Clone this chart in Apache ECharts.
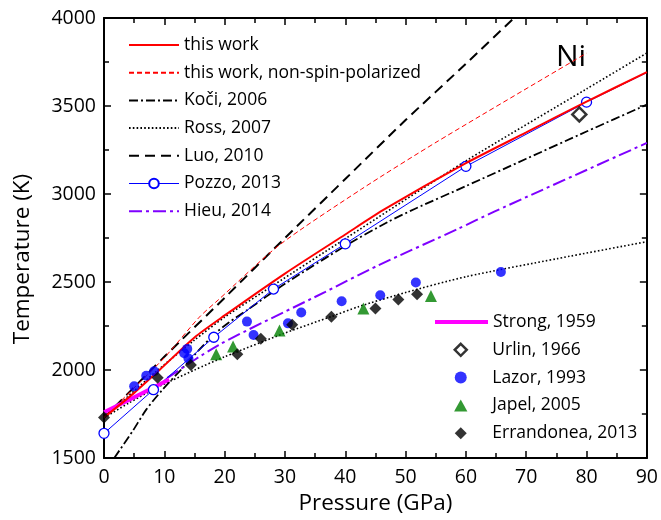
<!DOCTYPE html>
<html><head><meta charset="utf-8">
<script src="https://cdn.jsdelivr.net/npm/echarts@6/dist/echarts.min.js"></script>
<style>html,body{margin:0;padding:0;background:#fff}#c{width:661px;height:520px}</style>
</head><body><div id="c"></div>
<script>
// ---- data (Pressure GPa, Temperature K) ----
const thisWork = [[0,1730],[5,1870],[9.2,2000],[15,2185],[20,2310],[30,2548],[40,2770],[46.6,2915],[60,3175],[70,3350],[80,3525],[90,3692]];
const thisWorkNSP = [[0,1730],[3.7,1855],[10,2070],[15.8,2300],[19,2400],[29,2708],[42.7,3028],[55.4,3301],[80,3800]];
const koci = [[1.7,1500],[4.75,1653],[7,1775],[9.7,1888],[13,2010],[17.9,2191],[20.7,2270],[23.7,2340],[30,2490],[40,2705],[47,2840],[51.5,2915],[60,3045],[70,3200],[80,3355],[90,3508]];
const rossUpper = [[0,1728],[8.6,1990],[15,2170],[20,2300],[28.1,2482],[40,2746],[60,3188],[80,3597],[90,3801]];
const rossLower = [[0,1728],[4,1810],[8.6,1897],[15,2000],[20,2075],[30,2210],[37.8,2305],[42.2,2360],[50,2440],[60,2530],[75.2,2633],[90,2729]];
const luo = [[0,1728],[10,2075],[20,2410],[30,2750],[40,3085],[50,3420],[60,3740],[68,4000],[70,4060]];
const pozzo = [[0,1640],[8.2,1888],[18.2,2186],[28.1,2460],[40,2717],[60,3157],[80,3522]];
const pozzoEnd = [90,3690];
const hieu = [[10.5,1955],[19,2142],[36.7,2444],[45.5,2595],[58.7,2802],[64.7,2900],[90,3290]];
const strong = [[0,1760],[4.2,1831],[10.8,1946]];
const urlin = [[78.8,3452]];
const lazor = [[5.0,1907],[7.0,1967],[8.3,1993],[13.3,2095],[13.8,2120],[14.0,2065],[23.7,2275],[24.8,2199],[30.5,2265],[32.7,2327],[39.4,2391],[45.8,2425],[51.7,2497],[65.8,2557]];
const japel = [[18.6,2090],[21.4,2133],[29.1,2224],[43.0,2350],[54.2,2421]];
const errandonea = [[0,1730],[8.9,1956],[14.4,2028],[22.1,2090],[26.0,2178],[31.2,2257],[37.7,2303],[45.0,2350],[48.8,2401],[51.9,2431]];

const legendLines = ['this work','this work, non-spin-polarized','Koči, 2006','Ross, 2007','Luo, 2010','Pozzo, 2013','Hieu, 2014'];
const legendLine2 = ['Strong, 1959'];
const legendPoints = ['Urlin, 1966','Lazor, 1993','Japel, 2005','Errandonea, 2013'];

const FONT = 'Open Sans';
const chart = echarts.init(document.getElementById('c'), null, {renderer:'canvas'});

function lineSeries(name, data, color, width, type, extra) {
  return Object.assign({
    name: name, type: 'line', data: data, symbol: 'none', smooth: 0.25,
    lineStyle: {color: color, width: width, type: type},
    itemStyle: {color: color},
    animation: false, z: 2
  }, extra || {});
}

const axisCommon = {
  axisLine: {show: true, onZero: false, lineStyle: {color: '#000', width: 2}},
  axisTick: {show: true, inside: true, length: 7, lineStyle: {color: '#000', width: 1.5}},
  minorTick: {show: true, splitNumber: 2, length: 5, lineStyle: {color: '#000', width: 1.5}},
  splitLine: {show: false}
};

const LEGEND_LINE_W = {'this work': 2, 'Pozzo, 2013': 1, 'Strong, 1959': 4};
const legendLineItem = n => {
  const it = {name: n};
  if (n !== 'Pozzo, 2013') it.itemStyle = {opacity: 0};
  if (LEGEND_LINE_W[n]) it.lineStyle = {width: LEGEND_LINE_W[n]};
  return it;
};
const ICONS = {
  'Urlin, 1966': 'path://M5,0L10,5L5,10L0,5Z',
  'Lazor, 1993': 'circle',
  'Japel, 2005': 'path://M5,0L10,9L0,9Z',
  'Errandonea, 2013': 'path://M5,0L10,5L5,10L0,5Z'
};
const ICON_STYLE = {
  'Urlin, 1966': {color: '#fff', borderColor: '#000', borderWidth: 2.5}
};
const legendText = {fontFamily: FONT, fontSize: 17.5, color: '#000', lineHeight: 18};

const option = {
  backgroundColor: '#fff',
  animation: false,
  textStyle: {fontFamily: FONT},
  grid: {left: 104, right: 11, top: 18, bottom: 60},
  xAxis: [
    Object.assign({type: 'value', min: 0, max: 90, interval: 10, position: 'bottom',
      name: 'Pressure (GPa)', nameLocation: 'middle', nameGap: 34,
      nameTextStyle: {fontFamily: FONT, fontSize: 22.5, color: '#000'},
      axisLabel: {fontFamily: FONT, fontSize: 19.5, color: '#000', margin: 9, formatter: v => String(v)}}, axisCommon),
    Object.assign({type: 'value', min: 0, max: 90, interval: 10, position: 'top',
      axisLabel: {show: false}}, axisCommon)
  ],
  yAxis: [
    Object.assign({type: 'value', min: 1500, max: 4000, interval: 500, position: 'left',
      name: 'Temperature (K)', nameLocation: 'middle', nameGap: 70,
      nameTextStyle: {fontFamily: FONT, fontSize: 22.5, color: '#000', padding: [0, 42, 0, 0]},
      axisLabel: {fontFamily: FONT, fontSize: 19.5, color: '#000', margin: 8, formatter: v => String(v)}}, axisCommon),
    Object.assign({type: 'value', min: 1500, max: 4000, interval: 500, position: 'right',
      axisLabel: {show: false}}, axisCommon)
  ],
  legend: [
    {
      data: legendLines.map(legendLineItem),
      orient: 'vertical', left: 128, top: 36, padding: 0,
      itemWidth: 50, itemHeight: 12, itemGap: 9.7, selectedMode: false,
      textStyle: legendText
    },
    {
      data: legendLine2.map(legendLineItem),
      orient: 'vertical', left: 433, top: 313, padding: 0,
      itemWidth: 53, itemHeight: 12, itemGap: 9.8, selectedMode: false,
      textStyle: legendText
    },
    {
      data: legendPoints.map(n => Object.assign({name: n, icon: ICONS[n]}, ICON_STYLE[n] ? {itemStyle: ICON_STYLE[n]} : {})),
      orient: 'vertical', left: 453.5, top: 340.8, padding: 0, symbolKeepAspect: true,
      itemWidth: 53, itemHeight: 12, itemGap: 9.8, selectedMode: false,
      textStyle: legendText
    }
  ],
  graphic: [{
    type: 'text', left: 556, top: 42,
    style: {text: 'Ni', fontFamily: FONT, fontSize: 30, fill: '#000'}
  }],
  series: [
    lineSeries('Luo, 2010', luo, '#000', 2, [10, 6]),
    lineSeries('Ross, 2007', rossUpper, '#000', 1.6, [1.6, 2.2]),
    lineSeries('Ross lower', rossLower, '#000', 1.6, [1.6, 2.2]),
    lineSeries('Koči, 2006', koci, '#000', 1.8, [9, 3, 2, 3]),
    lineSeries('Hieu, 2014', hieu, '#7f00ff', 2, [13, 4, 3, 4]),
    lineSeries('this work, non-spin-polarized', thisWorkNSP, '#ff0000', 1, [5, 3]),
    lineSeries('Pozzo, 2013', pozzo.concat([{value: pozzoEnd, symbol: 'none'}]), '#0000ff', 1, 'solid', {
      symbol: 'circle', symbolSize: 10, smooth: false, showSymbol: true,
      itemStyle: {color: '#fff', borderColor: '#0000ff', borderWidth: 1.3}, z: 3
    }),
    lineSeries('Strong, 1959', strong, '#ff00ff', 4, 'solid', {smooth: false, z: 3}),
    lineSeries('this work', thisWork, '#ff0000', 2, 'solid', {z: 4}),
    {name: 'Urlin, 1966', type: 'scatter', data: urlin, symbol: 'diamond', symbolSize: 14,
      itemStyle: {color: '#fff', borderColor: '#000', borderWidth: 2.5}, z: 5},
    {name: 'Lazor, 1993', type: 'scatter', data: lazor, symbol: 'circle', symbolSize: 10,
      itemStyle: {color: '#0000ff'}, z: 5},
    {name: 'Japel, 2005', type: 'scatter', data: japel, symbol: 'triangle', symbolSize: 12,
      itemStyle: {color: '#008000'}, z: 5},
    {name: 'Errandonea, 2013', type: 'scatter', data: errandonea, symbol: 'diamond', symbolSize: 12,
      itemStyle: {color: '#000'}, z: 5}
  ]
};
chart.setOption(option);
</script>
</body></html>
